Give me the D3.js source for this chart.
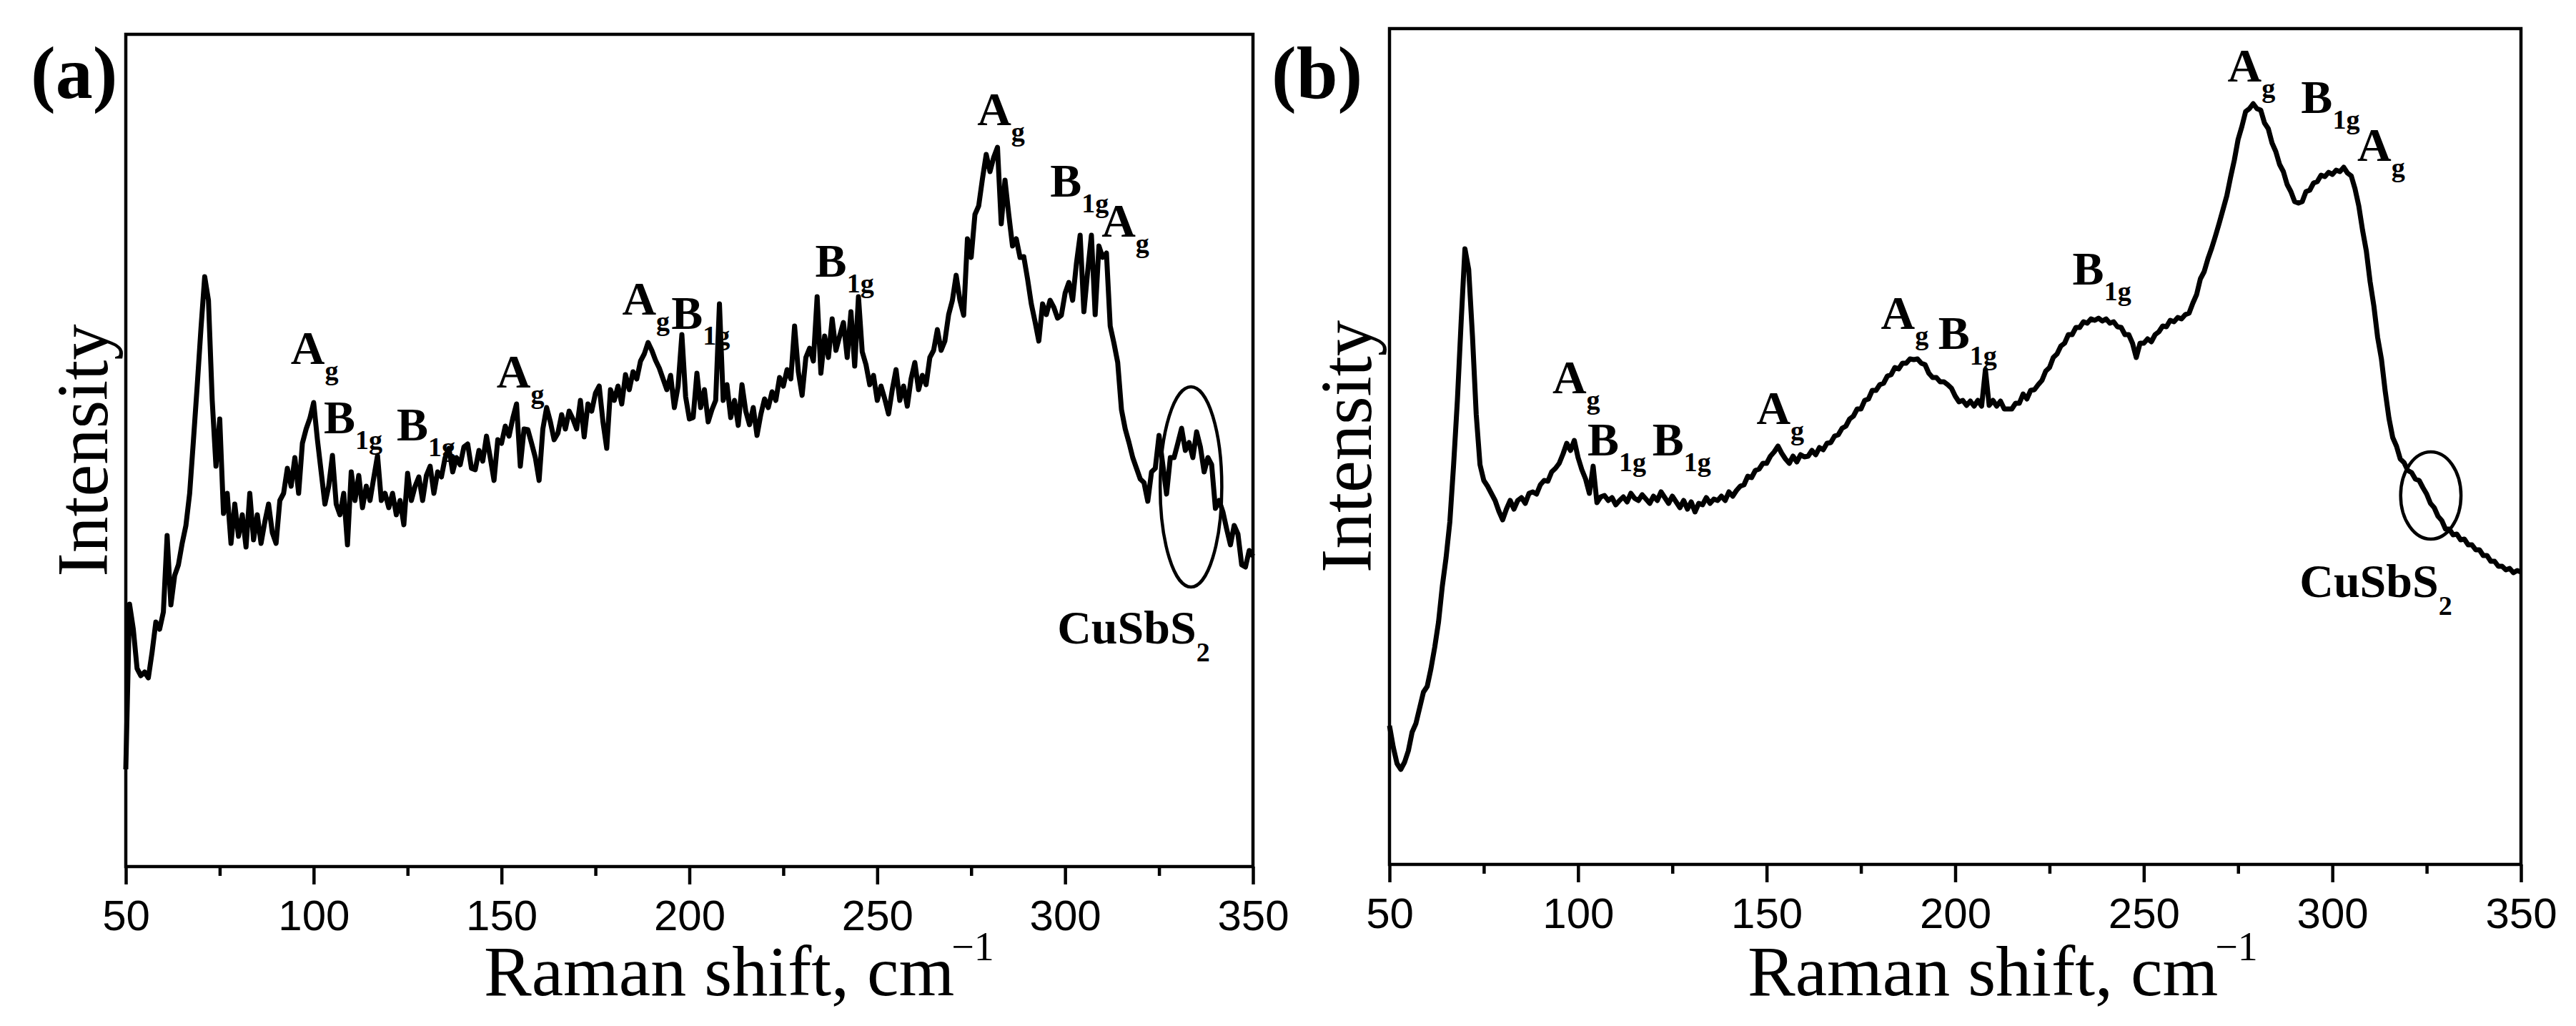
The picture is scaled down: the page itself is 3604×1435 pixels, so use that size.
<!DOCTYPE html>
<html><head><meta charset="utf-8">
<script src="https://cdn.jsdelivr.net/npm/d3@7"></script>
<style>body{margin:0;background:#fff}</style>
</head><body>
<svg id="chart" width="3604" height="1435"></svg>
<script>
// Raman shift grid (cm^-1): 50 .. 350, step 1
const shiftStart = 50, shiftEnd = 350;
const ramanShift = d3.range(shiftStart, shiftEnd + 1);

// Panel (a) intensity (a.u.)
const intensityA = [
136,367,332,277,267,272,264,300,342,332,
356,463,366,407,422,452,477,522,596,672,
752,825,792,652,560,626,494,522,452,507,
462,492,447,522,457,492,452,482,507,467,
452,512,522,557,532,572,522,592,612,627,
649,597,552,507,532,575,507,492,522,450,
552,512,547,502,532,512,544,575,512,522,
502,522,492,512,478,550,512,532,545,512,
547,560,522,552,545,572,585,552,572,562,
587,591,557,555,582,567,602,572,540,597,
592,616,602,627,647,560,612,611,592,572,
540,612,642,622,597,606,632,612,637,626,
612,652,601,647,637,662,672,622,585,667,
652,672,647,688,667,692,682,707,717,733,
722,708,697,682,667,687,642,672,744,657,
626,628,690,642,667,622,639,652,787,652,
674,628,652,617,674,637,618,642,603,632,
654,642,664,652,684,672,695,682,756,692,
659,712,725,707,797,690,742,712,766,722,
742,761,712,776,700,797,720,702,674,687,
652,672,654,633,667,695,652,672,644,682,
705,667,687,674,712,722,751,722,735,772,
792,827,792,771,878,852,912,924,962,996,
972,992,1006,899,960,912,868,878,852,853,
822,787,762,735,787,772,792,782,767,771,
802,817,792,843,883,776,832,883,772,868,
852,858,756,732,705,639,612,593,572,557,
542,537,511,552,557,603,562,521,572,572,
592,613,582,593,572,608,587,552,572,562,
501,512,496,472,450,477,465,422,419,442,
434
];

// Panel (b) intensity (a.u.)
const intensityB = [
194,164,141,133,143,159,185,197,219,241,
249,274,304,339,389,429,479,559,649,759,
861,832,739,629,559,537,529,519,509,494,
482,497,509,497,509,513,505,519,521,518,
531,537,536,549,554,561,574,589,579,593,
569,552,539,519,557,506,514,516,509,513,
503,509,514,507,519,512,509,517,511,505,
515,509,521,513,505,515,507,499,509,497,
507,493,505,503,513,505,511,509,515,509,
521,515,523,529,531,543,541,551,553,561,
561,571,577,585,575,567,561,571,563,573,
570,571,579,573,583,580,589,590,599,601,
610,613,623,627,637,637,649,651,663,663,
671,673,683,685,695,693,701,701,707,706,
707,701,699,687,681,681,675,675,671,666,
655,647,649,642,648,641,649,641,692,642,
649,641,648,637,637,637,645,645,658,651,
663,664,671,677,690,695,709,714,725,729,
741,741,751,751,759,757,763,761,764,760,
763,757,759,752,751,741,741,729,709,729,
729,735,731,741,745,753,752,761,759,765,
763,769,771,785,797,819,829,847,862,879,
897,916,935,961,985,1014,1032,1053,1057,1064,
1057,1055,1037,1029,1009,997,979,969,951,941,
927,925,927,941,943,953,955,964,962,968,
965,971,969,975,967,963,945,921,887,858,
815,781,737,707,662,624,597,585,567,562,
551,548,539,537,527,518,505,499,487,481,
469,469,461,462,454,455,447,447,440,440,
432,432,424,424,417,417,412,414,408,411,
409
];

const xMajorTicks = [50, 100, 150, 200, 250, 300, 350];
const xMinorTicks = [75, 125, 175, 225, 275, 325];

// Peak assignments: [main, subscript, shift, intensity]
const peakLabelsA = [
  ["A","g",93.9,703],["B","1g",102.7,606],["B","1g",122.1,596],["A","g",148.7,670],
  ["A","g",182.1,772],["B","1g",195.2,752],["B","1g",233.5,825],["A","g",276.6,1037],
  ["B","1g",296.0,937],["A","g",309.7,881],["CuSbS","2",297.9,312]
];
const peakLabelsB = [
  ["A","g",93.2,659],["B","1g",102.5,572],["B","1g",119.7,572],["A","g",147.3,616],
  ["A","g",180.3,749],["B","1g",195.5,721],["B","1g",231.1,811],["A","g",272.2,1095],
  ["B","1g",291.7,1051],["A","g",306.6,984],["CuSbS","2",291.3,374]
];
// CuSbS2 marker ellipses: [centre shift, centre intensity, half-width (cm-1), half-height (a.u.)]
const ellipseA = [333.5, 531, 8.2, 140];
const ellipseB = [326.1, 516, 8.0, 61];

const panels = [
  {letter:"(a)", data:intensityA, labels:peakLabelsA, ell:ellipseA, yMax:1164,
   left:176, right:1753, top:48, bottom:1212, letterX:43, letterY:137},
  {letter:"(b)", data:intensityB, labels:peakLabelsB, ell:ellipseB, yMax:1169,
   left:1944, right:3527, top:40, bottom:1209, letterX:1779, letterY:137}
];

const svg = d3.select("#chart");
const serif = "'Liberation Serif','Times New Roman',Times,serif";
const sans = "'Liberation Sans',Arial,Helvetica,sans-serif";

panels.forEach(p => {
  const x = d3.scaleLinear().domain([shiftStart, shiftEnd]).range([p.left, p.right]);
  const y = d3.scaleLinear().domain([0, p.yMax]).range([p.bottom, p.top]);
  const g = svg.append("g");

  // spectrum
  const line = d3.line().x((d,i) => x(ramanShift[i])).y(d => y(d));
  g.append("path").datum(p.data).attr("d", line)
    .attr("fill","none").attr("stroke","#000").attr("stroke-width",7)
    .attr("stroke-linejoin","round");

  // ellipse
  const [ecx, ecy, erx, ery] = p.ell;
  g.append("ellipse")
    .attr("cx", x(ecx)).attr("cy", y(ecy))
    .attr("rx", x(ecx + erx) - x(ecx)).attr("ry", y(0) - y(ery))
    .attr("fill","none").attr("stroke","#000").attr("stroke-width",4.5);

  // frame
  g.append("rect").attr("x",p.left).attr("y",p.top)
    .attr("width",p.right-p.left).attr("height",p.bottom-p.top)
    .attr("fill","none").attr("stroke","#000").attr("stroke-width",4.5);

  // axes
  const ax = g.append("g").attr("transform",`translate(0,${p.bottom})`)
    .call(d3.axisBottom(x).tickValues(xMajorTicks).tickSize(25).tickPadding(21).tickFormat(d3.format("d")));
  ax.select(".domain").remove();
  ax.selectAll("line").attr("stroke","#000").attr("stroke-width",4.5);
  ax.selectAll("text").attr("font-family",sans).attr("font-size",60).attr("fill","#000");
  const axm = g.append("g").attr("transform",`translate(0,${p.bottom})`)
    .call(d3.axisBottom(x).tickValues(xMinorTicks).tickSize(13).tickFormat(""));
  axm.select(".domain").remove();
  axm.selectAll("line").attr("stroke","#000").attr("stroke-width",4.5);

  // x title
  const xt = g.append("text").attr("x", p.left + 501).attr("y", 1392)
    .attr("font-family",serif).attr("font-size",100).attr("fill","#000");
  xt.append("tspan").text("Raman shift, cm");
  xt.append("tspan").attr("font-size",56).attr("dy",-49).attr("dx",-4).text("\u22121");

  // y title
  g.append("text")
    .attr("transform",`translate(${p.left-26},${(p.top+p.bottom)/2}) rotate(-90)`)
    .attr("text-anchor","middle").attr("font-family",serif).attr("font-size",101)
    .attr("fill","#000").text("Intensity");

  // panel letter
  g.append("text").attr("x",p.letterX).attr("y",p.letterY)
    .attr("font-family",serif).attr("font-weight","bold").attr("font-size",104)
    .attr("fill","#000").text(p.letter);

  // peak labels
  p.labels.forEach(l => {
    const t = g.append("text").attr("x", x(l[2])).attr("y", y(l[3]))
      .attr("font-family",serif).attr("font-weight","bold").attr("font-size",66).attr("fill","#000");
    t.append("tspan").text(l[0]);
    t.append("tspan").attr("font-size",38).attr("dy",l[1]==="2"?25:22).text(l[1]);
  });
});
</script>
</body></html>
